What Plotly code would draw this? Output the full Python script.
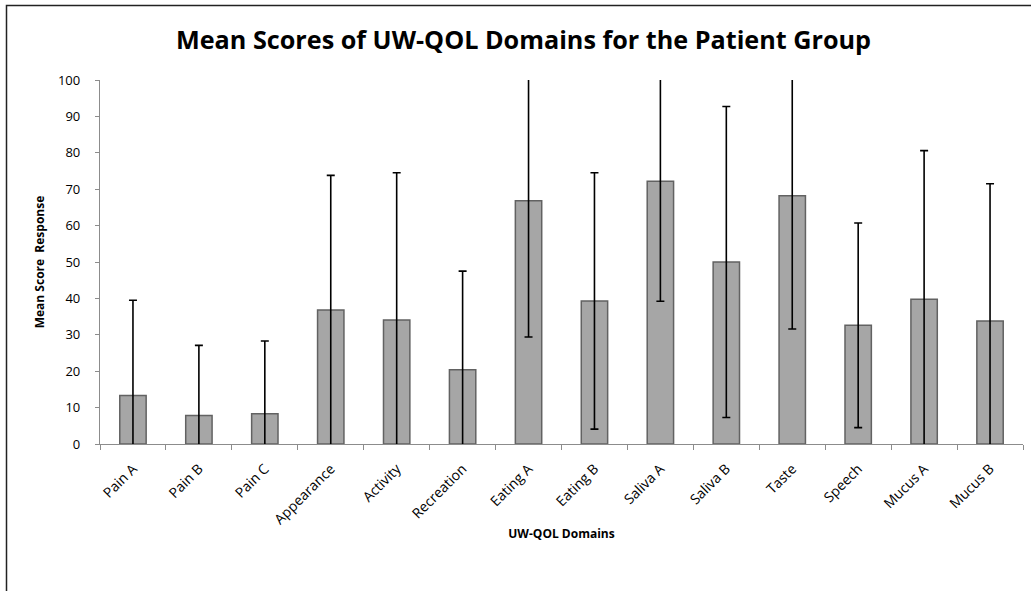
import plotly.graph_objects as go

domains = ["Pain A", "Pain B", "Pain C", "Appearance", "Activity", "Recreation",
           "Eating A", "Eating B", "Saliva A", "Saliva B", "Taste", "Speech",
           "Mucus A", "Mucus B"]
mean_scores = [13.3, 7.8, 8.3, 36.8, 34.1, 20.4, 66.8, 39.3, 72.2, 50.0, 68.2, 32.6, 39.8, 33.8]
std_dev = [26.2, 19.3, 20.0, 37.0, 40.4, 27.1, 37.4, 35.2, 33.0, 42.7, 36.6, 28.1, 40.8, 37.7]
y_ticks = [0, 10, 20, 30, 40, 50, 60, 70, 80, 90, 100]

W, H = 1031, 591
ML, MR, MT, MB = 100, 8, 80, 147
PW, PH = W - ML - MR, H - MT - MB


def px_x(px):
    return (px - ML) / PW


def px_y(py):
    return (H - MB - py) / PH


fig = go.Figure(go.Bar(
    x=domains,
    y=mean_scores,
    width=0.4,
    marker=dict(color="#a6a6a6", line=dict(color="#626262", width=1.5)),
    error_y=dict(type="data", array=std_dev, symmetric=True,
                 color="black", thickness=1.6, width=4),
))

# outer chart frame (top and left edges visible in the original)
fig.add_shape(type="rect", xref="paper", yref="paper",
              x0=px_x(6.5), x1=px_x(1040), y0=px_y(600), y1=px_y(5.5),
              line=dict(color="#222222", width=1.5), layer="below")

fig.update_layout(
    width=W, height=H,
    margin=dict(l=ML, r=MR, t=MT, b=MB, autoexpand=False),
    paper_bgcolor="white", plot_bgcolor="white",
    font=dict(family="Open Sans, Liberation Sans, sans-serif", color="black"),
    title=dict(text="<b>Mean Scores of UW-QOL Domains for the Patient Group</b>",
               x=523.5 / W, xanchor="center", y=1 - 40 / H, yanchor="middle",
               font=dict(size=25.2, family="Open Sans, sans-serif")),
    showlegend=False,
    bargap=0.6,
)

fig.update_xaxes(
    automargin=False,
    showline=True, linecolor="#8c8c8c", linewidth=1.3,
    ticks="outside", tickson="boundaries", tickcolor="#8c8c8c", ticklen=5,
    tickangle=-45, tickfont=dict(size=14), ticklabelstandoff=10,
    showgrid=False,
    title=dict(text="<b>UW-QOL Domains</b>", font=dict(size=12), standoff=2),
)
fig.update_yaxes(
    automargin=False,
    range=[0, 100], tickvals=y_ticks,
    showline=True, linecolor="#8c8c8c", linewidth=1.3,
    ticks="outside", tickcolor="#8c8c8c", ticklen=4, ticklabelstandoff=12,
    tickfont=dict(size=13), showgrid=False, zeroline=False,
    title=dict(text="<b>Mean Score  Response</b>", font=dict(size=12), standoff=10),
)

# drop the browser's default body margin so the figure sits at the page origin
fig.write_html("out.html", config={"displayModeBar": False},
               post_script="document.body.style.margin='0';")
